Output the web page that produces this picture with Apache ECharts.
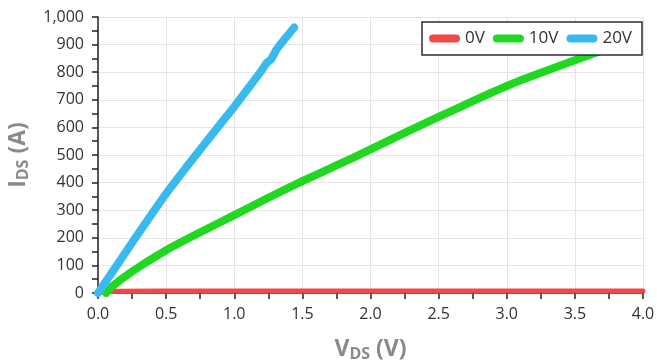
<!DOCTYPE html>
<html>
<head>
<meta charset="utf-8">
<script src="https://cdn.jsdelivr.net/npm/echarts@6/dist/echarts.min.js"></script>
<style>
  html, body { margin: 0; padding: 0; background: #fff; }
  #chart { width: 657px; height: 364px; }
</style>
</head>
<body>
<div id="chart"></div>
<script>
// 曲线数据 (V_DS, I_DS)
const vgsNames = ["0V", "10V", "20V"];
const colors = ["#f24848", "#1fd81f", "#38baee"];

const vds0 = [0, 0.06, 0.5, 1.0, 1.5, 2.0, 2.5, 3.0, 3.5, 4.0];
const ids0 = [0, 6, 7, 7, 7, 7, 7, 7, 7, 7];

const vds10 = [0.06, 0.1, 0.25, 0.5, 0.75, 1.0, 1.25, 1.5, 1.75, 2.0, 2.25, 2.5, 2.75, 3.0, 3.25, 3.5, 3.8];
const ids10 = [0, 22, 78, 155, 220, 282, 345, 405, 462, 520, 580, 638, 695, 750, 798, 843, 897];

const vds20 = [0, 0.05, 0.1, 0.25, 0.5, 0.75, 1.0, 1.1, 1.2, 1.24, 1.27, 1.31, 1.37, 1.44];
const ids20 = [0, 36, 72, 182, 360, 520, 675, 740, 806, 835, 846, 882, 920, 962];

// x / y 轴刻度
const xTicks = { min: 0, max: 4, interval: 0.5 };
const yTicks = { min: 0, max: 1000, interval: 100 };

const toPairs = (xs, ys) => xs.map((x, i) => [x, ys[i]]);
const seriesData = [toPairs(vds0, ids0), toPairs(vds10, ids10), toPairs(vds20, ids20)];
const widths = [5, 8, 8];

const FONT = "Open Sans";

// 坐标轴标题（带下标）
const titleRich = {
  m: { fontSize: 23, fontWeight: "bold", color: "#8a8a8a", lineHeight: 26, fontFamily: FONT },
  s: { fontSize: 16, fontWeight: "bold", color: "#8a8a8a", lineHeight: 7, verticalAlign: "bottom", fontFamily: FONT }
};

const option = {
  animation: false,
  textStyle: { fontFamily: FONT },
  grid: { left: 98, right: 14, top: 17, bottom: 71, outerBoundsMode: "none" },
  legend: {
    data: vgsNames,
    left: 422,
    top: 22,
    zlevel: 1,
    padding: [8, 10, 8, 7],
    itemGap: 8,
    itemWidth: 31,
    itemHeight: 8,
    icon: "path://M4,0 H27 A4,4 0 0 1 27,8 H4 A4,4 0 0 1 4,0 Z",
    borderColor: "#2a2d3a",
    borderWidth: 1.5,
    backgroundColor: "#fff",
    textStyle: { fontSize: 17, color: "#333", fontFamily: FONT }
  },
  xAxis: {
    type: "value",
    min: xTicks.min,
    max: xTicks.max,
    interval: xTicks.interval,
    name: "{m|V}{s|DS}{m| (V)}",
    nameLocation: "middle",
    nameGap: 43,
    nameTextStyle: { rich: titleRich },
    axisLine: { lineStyle: { color: "#222", width: 1.5 } },
    axisTick: { length: 6, lineStyle: { color: "#222", width: 1.5 } },
    minorTick: { show: true, splitNumber: 2, length: 6, lineStyle: { color: "#222", width: 1.5 } },
    axisLabel: {
      margin: 13, fontSize: 16, color: "#333", fontFamily: FONT,
      formatter: v => v.toFixed(1)
    },
    splitLine: { show: true, lineStyle: { color: "#e5e5e5", width: 1 } }
  },
  yAxis: {
    type: "value",
    min: yTicks.min,
    max: yTicks.max,
    interval: yTicks.interval,
    name: "{m|I}{s|DS}{m| (A)}",
    nameLocation: "middle",
    nameRotate: 90,
    nameGap: 67,
    nameTextStyle: { rich: titleRich },
    axisLine: { show: true, lineStyle: { color: "#222", width: 1.5 } },
    axisTick: { show: true, length: 6, lineStyle: { color: "#222", width: 1.5 } },
    minorTick: { show: true, splitNumber: 2, length: 6, lineStyle: { color: "#222", width: 1.5 } },
    axisLabel: {
      margin: 14, fontSize: 16, color: "#333", fontFamily: FONT,
      formatter: v => v.toLocaleString("en-US")
    },
    splitLine: { show: true, lineStyle: { color: "#e5e5e5", width: 1 } }
  },
  series: vgsNames.map((name, i) => ({
    name: name,
    type: "line",
    data: seriesData[i],
    showSymbol: false,
    smooth: 0.2,
    z: 2 + i,
    itemStyle: { color: colors[i] },
    lineStyle: { color: colors[i], width: widths[i], cap: "round", join: "round" }
  }))
};

const chartObj = echarts.init(document.getElementById("chart"), null, { renderer: "canvas" });
chartObj.setOption(option);
window.addEventListener("resize", () => { chartObj.resize(); });
</script>
</body>
</html>
